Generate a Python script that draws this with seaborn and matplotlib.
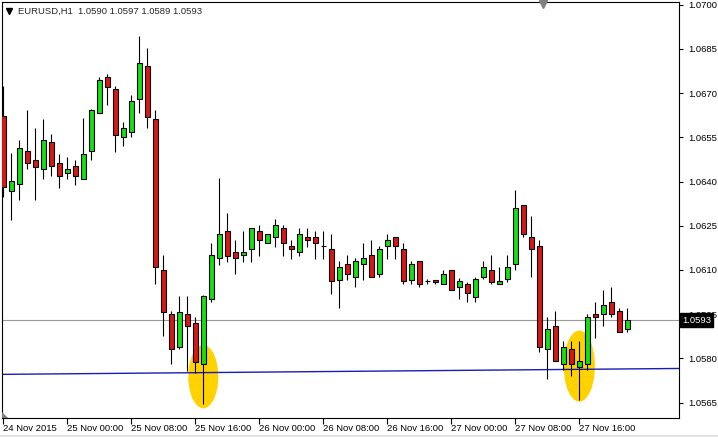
import matplotlib
matplotlib.use("Agg")
import matplotlib.pyplot as plt
import numpy as np
import pandas as pd
import seaborn as sns
from matplotlib.patches import Ellipse, Polygon, Rectangle
from matplotlib.transforms import blended_transform_factory

# EURUSD H1 bars, 24 Nov 16:00 .. 27 Nov 22:00
bar_times = pd.date_range("2015-11-24 16:00", periods=79, freq="h")
opens = [
    1.06622, 1.06369, 1.06392, 1.06504, 1.06473, 1.06443, 1.06534, 1.06463, 1.06429, 1.06453,
    1.06409, 1.06504, 1.06633, 1.06755, 1.06714, 1.06551, 1.06568, 1.06680, 1.06792, 1.06612,
    1.06100, 1.05951, 1.05839, 1.05951, 1.05920, 1.05781, 1.06002, 1.06141, 1.06232, 1.06161,
    1.06151, 1.06171, 1.06232, 1.06192, 1.06212, 1.06243, 1.06182, 1.06161, 1.06212, 1.06212,
    1.06182, 1.06171, 1.06066, 1.06120, 1.06076, 1.06120, 1.06151, 1.06087, 1.06182, 1.06212,
    1.06171, 1.06066, 1.06131, 1.06063, 1.06066, 1.06053, 1.06100, 1.06042, 1.06053, 1.06009,
    1.06076, 1.06100, 1.06053, 1.06070, 1.06120, 1.06321, 1.06212, 1.06182, 1.05832, 1.05910,
    1.05781, 1.05832, 1.05771, 1.05781, 1.05951, 1.05951, 1.05992, 1.05961, 1.05900,
]
highs = [
    1.06724, 1.06497, 1.06541, 1.06643, 1.06582, 1.06612, 1.06561, 1.06494, 1.06483, 1.06473,
    1.06616, 1.06645, 1.06755, 1.06765, 1.06724, 1.06602, 1.06694, 1.06894, 1.06853, 1.06643,
    1.06151, 1.05961, 1.06012, 1.06012, 1.05941, 1.06015, 1.06192, 1.06412, 1.06293, 1.06202,
    1.06232, 1.06243, 1.06253, 1.06222, 1.06273, 1.06253, 1.06202, 1.06243, 1.06243, 1.06232,
    1.06232, 1.06222, 1.06131, 1.06151, 1.06141, 1.06192, 1.06202, 1.06182, 1.06222, 1.06212,
    1.06192, 1.06131, 1.06131, 1.06070, 1.06066, 1.06100, 1.06100, 1.06073, 1.06059, 1.06076,
    1.06131, 1.06151, 1.06110, 1.06151, 1.06371, 1.06321, 1.06283, 1.06202, 1.05941, 1.05961,
    1.05859, 1.05859, 1.05859, 1.05951, 1.05992, 1.06032, 1.06042, 1.05971, 1.05970,
]
lows = [
    1.06348, 1.06270, 1.06338, 1.06443, 1.06338, 1.06409, 1.06419, 1.06378, 1.06409, 1.06388,
    1.06409, 1.06473, 1.06633, 1.06660, 1.06500, 1.06521, 1.06551, 1.06633, 1.06582, 1.06053,
    1.05876, 1.05781, 1.05832, 1.05757, 1.05751, 1.05646, 1.05992, 1.06117, 1.06127, 1.06087,
    1.06127, 1.06127, 1.06148, 1.06192, 1.06178, 1.06148, 1.06137, 1.06148, 1.06178, 1.06137,
    1.06137, 1.06019, 1.05971, 1.06066, 1.06042, 1.06066, 1.06076, 1.06076, 1.06137, 1.06137,
    1.06053, 1.06053, 1.06042, 1.06053, 1.06053, 1.06053, 1.06032, 1.06002, 1.05992, 1.05992,
    1.06070, 1.06053, 1.06053, 1.06059, 1.06100, 1.06212, 1.06076, 1.05822, 1.05731, 1.05791,
    1.05761, 1.05741, 1.05659, 1.05761, 1.05869, 1.05910, 1.05941, 1.05890, 1.05890,
]
closes = [
    1.06382, 1.06402, 1.06514, 1.06463, 1.06449, 1.06541, 1.06453, 1.06419, 1.06443, 1.06419,
    1.06494, 1.06643, 1.06745, 1.06721, 1.06558, 1.06582, 1.06673, 1.06802, 1.06619, 1.06110,
    1.05958, 1.05832, 1.05958, 1.05910, 1.05788, 1.06012, 1.06151, 1.06222, 1.06148, 1.06141,
    1.06161, 1.06243, 1.06202, 1.06222, 1.06253, 1.06192, 1.06171, 1.06222, 1.06202, 1.06192,
    1.06182, 1.06063, 1.06110, 1.06087, 1.06131, 1.06141, 1.06076, 1.06171, 1.06202, 1.06182,
    1.06063, 1.06120, 1.06053, 1.06063, 1.06059, 1.06087, 1.06032, 1.06063, 1.06022, 1.06070,
    1.06110, 1.06059, 1.06063, 1.06110, 1.06310, 1.06222, 1.06171, 1.05839, 1.05900, 1.05791,
    1.05839, 1.05781, 1.05791, 1.05941, 1.05941, 1.05981, 1.05951, 1.05890, 1.05930,
]

bid = 1.0593
trend_bars = [-0.2, 84.5]
trend_prices = [1.05746, 1.05766]
price_ticks = [1.0700, 1.0685, 1.0670, 1.0655, 1.0640, 1.0625, 1.0610, 1.0595, 1.0580, 1.0565]
time_labels = [
    "24 Nov 2015", "25 Nov 00:00", "25 Nov 08:00", "25 Nov 16:00", "26 Nov 00:00",
    "26 Nov 08:00", "26 Nov 16:00", "27 Nov 00:00", "27 Nov 08:00", "27 Nov 16:00",
]
header = "EURUSD,H1  1.0590 1.0597 1.0589 1.0593"

BULL = "#14e014"
BEAR = "#d81818"
HILITE = "#ffd200"

sns.set_theme(style="white")
plt.rcParams["font.family"] = ["Liberation Sans", "DejaVu Sans"]

bars = pd.DataFrame(
    {"time": bar_times, "open": opens, "high": highs, "low": lows, "close": closes}
)
bars["pos"] = np.arange(len(bars))
bars["body_low"] = bars[["open", "close"]].min(axis=1)
bars["body_h"] = (bars["close"] - bars["open"]).abs()
bars["color"] = np.where(bars["close"] > bars["open"], BULL,
                         np.where(bars["close"] < bars["open"], BEAR, "black"))

fig = plt.figure(figsize=(7.18, 4.37), dpi=100)
ax = fig.add_axes([2 / 718, 19 / 437, 677 / 718, 416 / 437])

# yellow highlight ellipses behind the candles
for cx, cy, w, h in [(25.0, 1.05738, 3.75, 0.00214), (72.0, 1.05774, 3.9, 0.00241)]:
    ax.add_patch(Ellipse((cx, cy), w, h, facecolor=HILITE, edgecolor="none", zorder=1))

ax.axhline(bid, color="#9a9a9a", lw=0.8, zorder=2)
sns.lineplot(x=trend_bars, y=trend_prices, color="#1c1cb4", lw=1.0, ax=ax, zorder=2)

ax.vlines(bars["pos"], bars["low"], bars["high"], color="black", lw=0.8, zorder=3)
ax.bar(bars["pos"], bars["body_h"], bottom=bars["body_low"], width=0.6,
       color=bars["color"], edgecolor="black", linewidth=0.8, zorder=4)

ax.set_xlim(-0.1625, 84.46)
ax.set_ylim(1.05598, 1.07009)

ax.yaxis.tick_right()
ax.set_yticks(price_ticks)
ax.set_yticklabels([f"{p:.4f}" for p in price_ticks])
label_pos = bars.index[(bars["time"].dt.hour % 8 == 0)].tolist()
ax.set_xticks(label_pos)
ax.set_xticklabels(time_labels, ha="left")
ax.tick_params(axis="y", direction="out", length=3, width=0.8, pad=3.5,
               labelsize=6.8, colors="black", right=True)
ax.tick_params(axis="x", direction="out", length=4, width=0.8, pad=0.5,
               labelsize=6.8, colors="black", bottom=True)
ax.set_xlabel("")
ax.set_ylabel("")
for sp in ax.spines.values():
    sp.set_color("black")
    sp.set_linewidth(0.8)

# current bid tag on the price scale (covers the 1.0595 level label, as in the terminal)
blend = blended_transform_factory(ax.transAxes, ax.transData)
ax.text(1.0 + 3 / 677, bid, "1.0593", transform=blend, color="white", fontsize=6.8,
        va="center", ha="left", zorder=10, clip_on=False,
        bbox=dict(boxstyle="square,pad=0.25", facecolor="black", edgecolor="black"))

# chart header and markers
fig.text(18 / 718, 1 - 11 / 437, header, fontsize=6.8, va="center", ha="left")
fig.lines.append(plt.Line2D([9 / 718], [1 - 11 / 437], marker="v", markersize=4,
                            color="black", transform=fig.transFigure))
ax.plot([0.7987], [0.994], marker="v", markersize=6, color="#808080",
        transform=ax.transAxes, clip_on=False, zorder=6)
ax.add_patch(Polygon([(0, 0), (0, 6 / 416), (6 / 677, 0)], closed=True,
                     facecolor="#808080", edgecolor="none", transform=ax.transAxes, zorder=6))
fig.add_artist(Rectangle((0, 0), 1, 2 / 437, facecolor="#e4e4e4", edgecolor="none",
                         transform=fig.transFigure))

fig.savefig("out.png", dpi=100)
